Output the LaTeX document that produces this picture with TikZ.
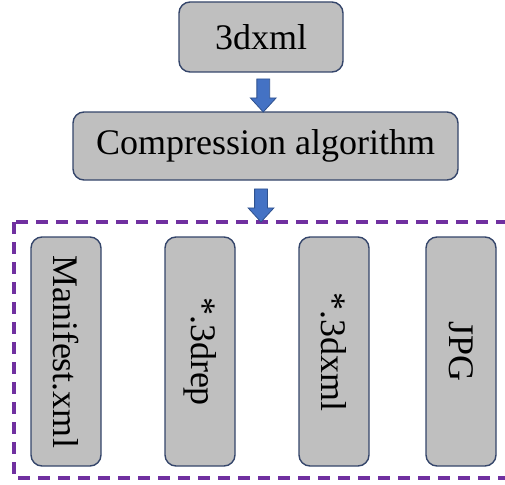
\documentclass[tikz,border=0pt]{standalone}
\usepackage{fontspec}
\setmainfont{Liberation Serif}
\usetikzlibrary{shapes.arrows,calc}

\definecolor{boxfill}{HTML}{BFBFBF}
\definecolor{boxline}{HTML}{34456A}
\definecolor{arrowfill}{HTML}{4472C4}
\definecolor{arrowline}{HTML}{2F528F}
\definecolor{groupline}{HTML}{7030A0}

\tikzset{
    stagebox/.style={draw=boxline, fill=boxfill, line width=1.4pt, rounded corners=11pt,
        font=\fontsize{36}{40}\selectfont, inner sep=0pt},
    filebox/.style={stagebox, rotate=-90, minimum width=229pt, minimum height=70pt},
    downarrow/.style={single arrow, draw=arrowline, fill=arrowfill, line width=0.8pt,
        rotate=-90, inner sep=6pt, single arrow head extend=6.5pt,
        single arrow tip angle=85, minimum height=33pt}
}

\begin{document}
\begin{tikzpicture}[x=1pt,y=-1pt]
    \useasboundingbox (0,0) rectangle (505,484);

    % Input and compression step
    \node[stagebox, minimum width=164pt, minimum height=70pt] (input) at (261,37) {3dxml};
    \node[stagebox, minimum width=385pt, minimum height=68pt] (comp) at (265.5,146) {Compression algorithm};
    \node[downarrow] (arr1) at ($(input.south)!0.5!(comp.north)$) {};

    % Group of output files
    \draw[groupline, line width=3.2pt, dash pattern=on 12pt off 8pt] (14,222) rectangle (515,478);
    \node[downarrow] (arr2) at (261,202) {};

    \node[filebox] (manifest) at (66,351.5) {Manifest.xml};
    \node[filebox] (rep) at (200,351.5) {*.3drep};
    \node[filebox] (xml) at (334,351.5) {*.3dxml};
    \node[filebox] (jpg) at (461,351.5) {JPG};
\end{tikzpicture}
\end{document}
